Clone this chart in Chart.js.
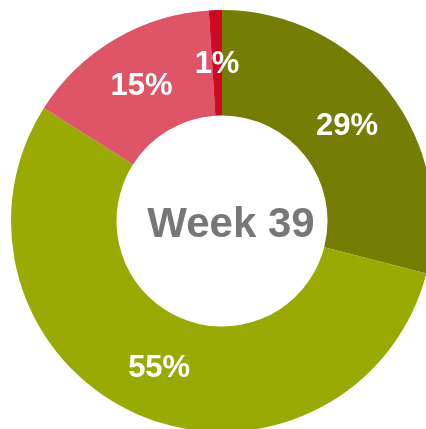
<!DOCTYPE html>
<html>
<head>
<meta charset="utf-8">
<script src="https://cdn.jsdelivr.net/npm/chart.js@4"></script>
<style>
  html, body { margin: 0; padding: 0; background: #ffffff; overflow: hidden; width: 426px; height: 429px; }
  #wrap { position: absolute; left: 11px; top: 10px; width: 422px; height: 422px; }
</style>
</head>
<body>
<div id="wrap"><canvas id="weekChart"></canvas></div>
<script>
const labels = ["A", "B", "C", "D"]
const values = [29, 55, 15, 1]
const colors = ["#767d04", "#9aaa05", "#dd5566", "#cc0a24"]
const center_text = "Week 39"

// write the percent on each slice, at the arc middle
const slice_labels =
{
  id: "slice_labels",
  afterDatasetsDraw(chart)
  {
    const ctx = chart.ctx
    const meta = chart.getDatasetMeta(0)
    ctx.save()
    ctx.fillStyle = "#ffffff"
    ctx.font = "bold 31px 'Liberation Sans', Arial, sans-serif"
    ctx.textAlign = "center"
    ctx.textBaseline = "middle"
    meta.data.forEach((arc, i) =>
    {
      const pos = arc.tooltipPosition()
      ctx.fillText(values[i] + "%", pos.x, pos.y + 2)
    })
    ctx.restore()
  }
}

const center_label =
{
  id: "center_label",
  afterDraw(chart)
  {
    const ctx = chart.ctx
    const arc = chart.getDatasetMeta(0).data[0]
    ctx.save()
    ctx.fillStyle = "#777777"
    ctx.font = "bold 42px 'Liberation Sans', Arial, sans-serif"
    ctx.textAlign = "center"
    ctx.textBaseline = "middle"
    ctx.fillText(center_text, arc.x + 9, arc.y + 4)
    ctx.restore()
  }
}

new Chart(document.getElementById("weekChart").getContext("2d"),
{
  type: "doughnut",
  data:
  {
    labels: labels,
    datasets:
    [
      {
        data: values,
        backgroundColor: colors,
        borderColor: "rgba(255,255,255,0.5)",
        borderWidth: 0
      }
    ]
  },
  options:
  {
    responsive: true,
    maintainAspectRatio: false,
    animation: false,
    cutout: "50%",
    layout: { padding: 0 },
    plugins:
    {
      legend: { display: false },
      tooltip: { enabled: false }
    }
  },
  plugins: [slice_labels, center_label]
})
</script>
</body>
</html>
